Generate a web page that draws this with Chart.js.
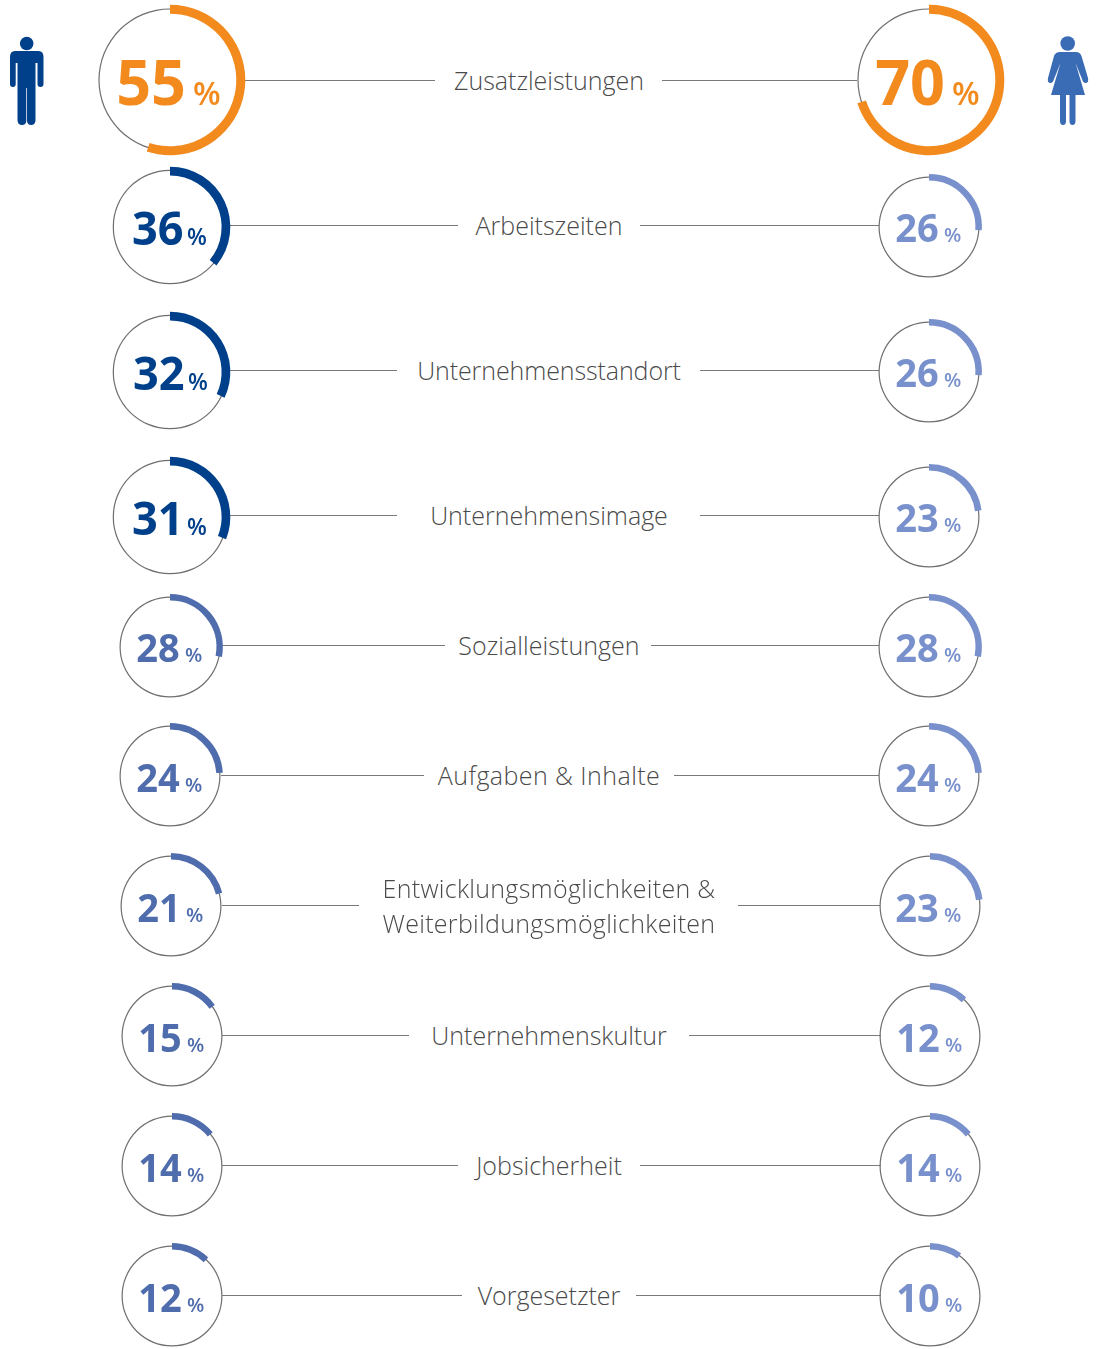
<!DOCTYPE html>
<html lang="de">
<head>
<meta charset="utf-8">
<title>Zusatzleistungen</title>
<script src="https://cdn.jsdelivr.net/npm/chart.js@4"></script>
<style>
html, body { margin: 0; padding: 0; background: #fff; }
#page { position: relative; width: 1097px; height: 1349px; overflow: hidden; font-family: "Open Sans", sans-serif; }
#page canvas { position: absolute; }
.txt { position: absolute; white-space: nowrap; line-height: 1; }
.rule { position: absolute; height: 1px; background: #7a7a7a; }
.label { position: absolute; left: 299px; width: 500px; text-align: center; font-weight: 300; font-size: 25px; line-height: 35px; color: #4a4a4a; }
svg { position: absolute; }
</style>
</head>
<body>
<div id="page">
  <svg style="left:0;top:0" width="60" height="140">
    <circle cx="26.7" cy="43.5" r="6.8" fill="#00408a"/>
    <path fill="#00408a" d="M15 51 H38.5 Q43.5 51 43.5 57 V84 Q43.5 87 40.5 87 Q37.5 87 37.5 84 V63 H35.5 V120 Q35.5 125 31 125 Q27.5 125 27 121 V88 H26.3 V121 Q26 125 22 125 Q17.5 125 17.5 120 V63 H15.7 V84 Q15.7 87 13 87 Q10 87 10 84 V57 Q10 51 15 51 Z"/>
  </svg>
  <svg style="left:1040px;top:0" width="57" height="140">
    <circle cx="27.7" cy="43.5" r="7.3" fill="#3a6bb5"/>
    <path fill="#3a6bb5" d="M20 52 H36 Q40 52 41.5 56 L48 78 Q49 83 45.5 83 Q43 83 42 79 L35.5 63 L45 95 H11 L20.500 63 L14 79 Q13 83 10.500 83 Q7 83 8 78 L14 56 Q15.500 52 20 52 Z"/>
    <path fill="#3a6bb5" d="M20 94 H26 V121 Q26 125 23 125 Q20 125 20 121 Z M29.500 94 H35.500 V121 Q35.500 125 32.500 125 Q29.500 125 29.500 121 Z"/>
  </svg>
</div>
<script>
const categories = ["Zusatzleistungen", "Arbeitszeiten", "Unternehmensstandort", "Unternehmensimage", "Sozialleistungen", "Aufgaben & Inhalte", ["Entwicklungsmöglichkeiten &", "Weiterbildungsmöglichkeiten"], "Unternehmenskultur", "Jobsicherheit", "Vorgesetzter"];
const menValues = [55, 36, 32, 31, 28, 24, 21, 15, 14, 12];
const womenValues = [70, 26, 26, 23, 28, 24, 23, 12, 14, 10];

// placement, one entry per row
const menX = [170, 170, 170, 170, 170, 170, 171.2, 171.5, 171.5, 171.5];
const menY = [80, 227, 372, 517, 646.5, 776, 906, 1036, 1166, 1296];
const womenX = [928.5, 929, 929, 929, 929, 929, 929.5, 930, 930, 930];
const womenY = [80, 226.5, 371.5, 516.5, 646.5, 776, 906, 1036, 1166, 1296];
const menPctX = [193, 187, 188, 187, 185, 185, 186, 187, 187, 187];
const womenPctX = [952, 944, 944, 944, 944, 944, 944, 945, 945, 945];
const ruleY = [80, 225, 370, 515, 645, 775, 905, 1035, 1165, 1295];
const ruleLeft = [[245, 435], [230, 458], [230, 397], [230, 397], [221, 445], [221, 424], [222, 359], [222, 409], [222, 458], [222, 462]];
const ruleRight = [[662, 857], [640, 879], [700, 879], [700, 879], [651, 879], [674, 879], [738, 880], [689, 881], [640, 881], [636, 881]];
const labelSpacing = [0, 0, -0.1, 0, 0.06, 0.44, 0.3, 0, 0, 0];
const labelShift = [0, 0, 0, 0, 0, 0, 1, 0, 0, 0];

const sizes = {
  xl: { thin: 71, outer: 75.3, inner: 66.3, num: 63, squeeze: 0.97, pct: 32, gap: 7, base: 25 },
  l: { thin: 56.7, outer: 60.3, inner: 51.6, num: 46, squeeze: 0.98, pct: 23, gap: 3, base: 18.3 },
  s: { thin: 49.9, outer: 52.9, inner: 46.4, num: 40, squeeze: 0.95, pct: 20, gap: 5, base: 16.5 }
};
const ORANGE = "#f28a1e", NAVY = "#00408a", MID = "#4f6cad", LIGHT = "#7890cc";

const page = document.getElementById("page");
const BOX = 160;

function addDoughnut(cx, cy, data, colors, inner, outer) {
  const c = document.createElement("canvas");
  c.width = BOX;
  c.height = BOX;
  c.style.left = (cx - BOX / 2) + "px";
  c.style.top = (cy - BOX / 2) + "px";
  c.style.width = BOX + "px";
  c.style.height = BOX + "px";
  page.appendChild(c);
  new Chart(c, {
    type: "doughnut",
    data: { datasets: [{ data: data, backgroundColor: colors, borderWidth: 0 }] },
    options: {
      responsive: false,
      animation: false,
      events: [],
      cutout: (inner / outer * 100) + "%",
      radius: outer,
      plugins: { legend: { display: false }, tooltip: { enabled: false } }
    }
  });
}

function addText(str, x, baseline, size, weight, color, alignRight, squeeze) {
  const d = document.createElement("div");
  d.className = "txt";
  d.textContent = str;
  d.style.fontSize = size + "px";
  d.style.fontWeight = weight;
  d.style.color = color;
  d.style.top = (baseline - 0.888 * size) + "px";
  if (alignRight) d.style.right = (1097 - x) + "px";
  else d.style.left = x + "px";
  if (squeeze) {
    d.style.transformOrigin = "right center";
    d.style.transform = "scaleX(" + squeeze + ")";
  }
  page.appendChild(d);
}

function addRing(value, cx, cy, size, color, pctX) {
  const s = sizes[size];
  addDoughnut(cx, cy, [100], ["#6f6f6f"], s.thin - 0.6, s.thin + 0.6);
  addDoughnut(cx, cy, [value, 100 - value], [color, "rgba(0,0,0,0)"], s.inner, s.outer);
  addText(String(value), pctX - s.gap, cy + s.base, s.num, 700, color, true, s.squeeze);
  addText("%", pctX, cy + s.base, s.pct, 600, color, false);
}

function addRule(range, y) {
  const d = document.createElement("div");
  d.className = "rule";
  d.style.left = range[0] + "px";
  d.style.width = (range[1] - range[0]) + "px";
  d.style.top = y + "px";
  page.appendChild(d);
}

categories.forEach((cat, i) => {
  addRule(ruleLeft[i], ruleY[i]);
  addRule(ruleRight[i], ruleY[i]);

  const menSize = i === 0 ? "xl" : i < 4 ? "l" : "s";
  const womenSize = i === 0 ? "xl" : "s";
  const menColor = i === 0 ? ORANGE : i < 4 ? NAVY : MID;
  const womenColor = i === 0 ? ORANGE : LIGHT;
  addRing(menValues[i], menX[i], menY[i], menSize, menColor, menPctX[i]);
  addRing(womenValues[i], womenX[i], womenY[i], womenSize, womenColor, womenPctX[i]);

  const lines = Array.isArray(cat) ? cat : [cat];
  const l = document.createElement("div");
  l.className = "label";
  l.style.letterSpacing = labelSpacing[i] + "px";
  lines.forEach((t, k) => {
    if (k) l.appendChild(document.createElement("br"));
    l.appendChild(document.createTextNode(t));
  });
  l.style.top = (ruleY[i] + labelShift[i] - lines.length * 35 / 2) + "px";
  page.appendChild(l);
});
</script>
</body>
</html>
